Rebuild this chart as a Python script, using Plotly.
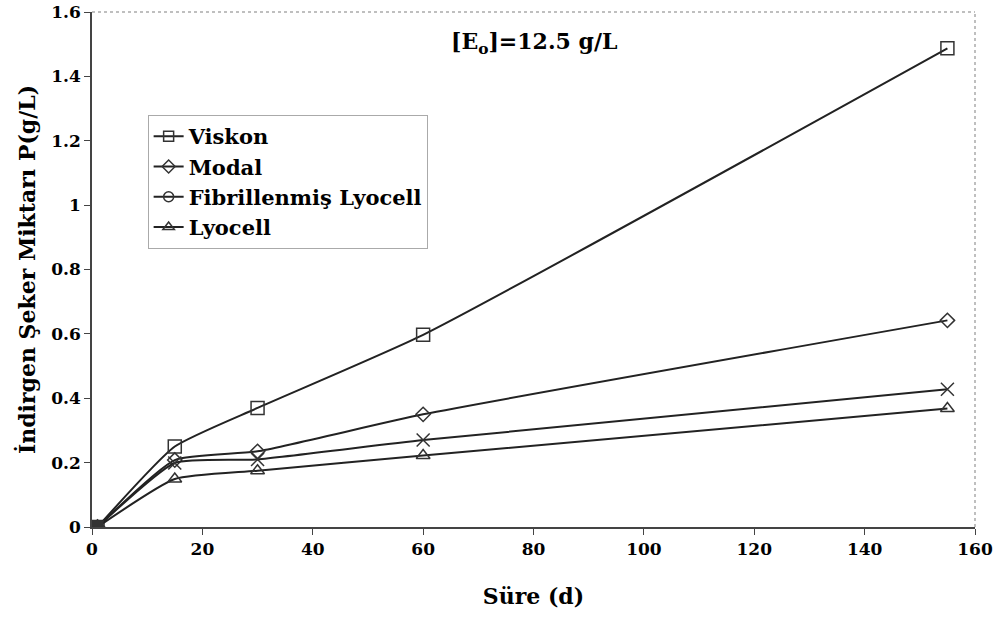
import plotly.graph_objects as go

time_d = [1, 15, 30, 60, 155]
viskon = [0.0, 0.25, 0.37, 0.597, 1.487]
modal = [0.0, 0.208, 0.235, 0.35, 0.642]
fibrillenmis = [0.0, 0.199, 0.21, 0.27, 0.428]
lyocell = [0.0, 0.149, 0.175, 0.222, 0.368]

names = ["Viskon", "Modal", "Fibrillenmiş Lyocell", "Lyocell"]
series = [viskon, modal, fibrillenmis, lyocell]
plot_symbols = ["square-open", "diamond-open", "x-thin-open", "triangle-up-open"]
legend_symbols = ["square-open", "diamond-open", "circle-open", "triangle-up-open"]
sizes = [13, 11, 13, 12]

FONT = "DejaVu Serif"
fig = go.Figure()

for name, ys, sym, sz in zip(names, series, plot_symbols, sizes):
    fig.add_trace(go.Scatter(
        x=time_d, y=ys, mode="lines+markers", showlegend=False,
        line=dict(color="#222", width=2, shape="spline", smoothing=0.5),
        marker=dict(symbol=sym, size=sz, color="#333", line=dict(color="#333", width=1.5)),
    ))

for name, sym in zip(names, legend_symbols):
    fig.add_trace(go.Scatter(
        x=[None], y=[None], mode="lines+markers", name=name,
        line=dict(color="#222", width=2),
        marker=dict(symbol=sym, size=10, color="#333", line=dict(color="#333", width=1.5)),
    ))

fig.add_trace(go.Scatter(
    x=[time_d[0]], y=[0], mode="markers", showlegend=False,
    marker=dict(symbol="square", size=12, color="#333"),
))

fig.update_layout(
    width=1003, height=637,
    margin=dict(l=92, r=28, t=12, b=110),
    plot_bgcolor="white", paper_bgcolor="white",
    font=dict(family=FONT, size=18, color="black"),
    legend=dict(
        x=0.063, y=0.80, xanchor="left", yanchor="top",
        bgcolor="white", bordercolor="#aaa", borderwidth=1,
        font=dict(family=FONT, size=21, color="black", weight="bold"),
        tracegroupgap=0, itemwidth=30,
    ),
    xaxis=dict(
        range=[0, 160], tickvals=list(range(0, 161, 20)), automargin=False,
        showgrid=False, zeroline=False, showline=True, linecolor="#444", linewidth=1.5,
        ticks="outside", ticklen=6, tickcolor="#444",
        tickfont=dict(family=FONT, size=17, color="black", weight="bold"),
        title=dict(text="Süre (d)", font=dict(family=FONT, size=22, color="black", weight="bold"), standoff=30),
    ),
    yaxis=dict(
        range=[0, 1.6], tickvals=[0, 0.2, 0.4, 0.6, 0.8, 1, 1.2, 1.4, 1.6], automargin=False,
        ticktext=["0", "0.2", "0.4", "0.6", "0.8", "1", "1.2", "1.4", "1.6"],
        showgrid=False, zeroline=False, showline=True, linecolor="#444", linewidth=1.5,
        ticks="outside", ticklen=6, tickcolor="#444",
        tickfont=dict(family=FONT, size=17, color="black", weight="bold"),
        title=dict(text="İndirgen Şeker Miktarı P(g/L)", font=dict(family=FONT, size=22, color="black", weight="bold"), standoff=10),
    ),
    annotations=[dict(
        x=0.5, y=0.972, xref="paper", yref="paper", showarrow=False,
        text="[E<sub>o</sub>]=12.5 g/L",
        font=dict(family=FONT, size=22, color="black", weight="bold"),
    )],
    shapes=[
        dict(type="line", xref="paper", yref="paper", x0=0, x1=1, y0=1, y1=1,
             line=dict(color="#aaa", width=1.5, dash="dot")),
        dict(type="line", xref="paper", yref="paper", x0=1, x1=1, y0=0, y1=1,
             line=dict(color="#aaa", width=1.5, dash="dot")),
    ],
)

fig.write_html("out.html")
